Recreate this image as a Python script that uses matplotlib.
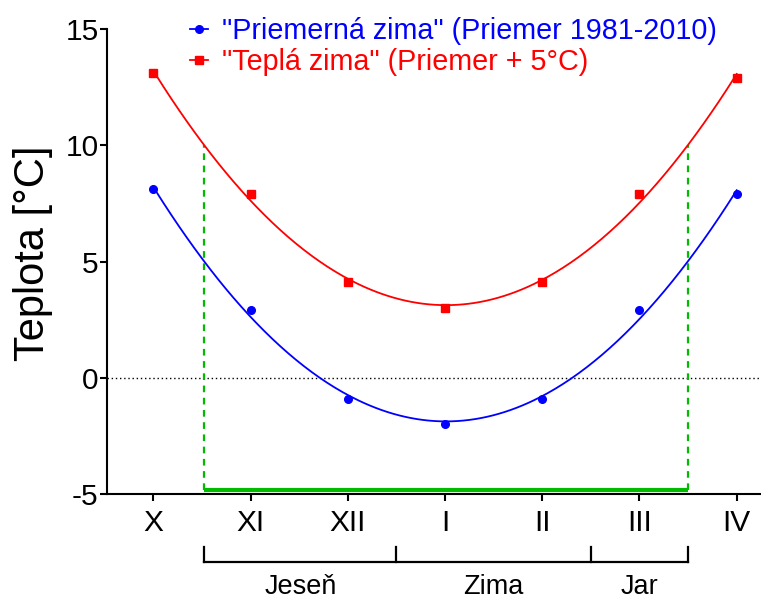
import numpy as np
import matplotlib

matplotlib.use("Agg")
import matplotlib.pyplot as plt

plt.rcParams["font.family"] = ["Liberation Sans", "DejaVu Sans"]

months = ["X", "XI", "XII", "I", "II", "III", "IV"]
avg_winter = [8.1, 2.9, -0.9, -2.0, -0.9, 2.9, 7.9]    # mean 1981-2010
warm_winter = [13.1, 7.9, 4.1, 3.0, 4.1, 7.9, 12.9]    # mean + 5 °C
threshold = 5.0                                          # season cut-off on the mean curve
season_names = ["Jeseň", "Zima", "Jar"]
season_splits = [2.5, 4.5]                               # inner bracket dividers

BLUE = "#0000ff"
RED = "#ff0000"
GREEN = "#00bb00"

x = np.arange(len(months))
xs = np.linspace(0, len(months) - 1, 300)
fit_avg = np.polyfit(x, avg_winter, 2)
fit_warm = np.polyfit(x, warm_winter, 2)

# where the mean-winter curve crosses the threshold
roots = np.roots(fit_avg - np.array([0, 0, threshold]))
x0, x1 = sorted(roots.real)

fig = plt.figure(figsize=(7.61, 6.01), dpi=100)
ax = fig.add_axes([0.1406, 0.178, 0.8594, 0.7737])

ax.axhline(0, color="black", lw=1.0, ls=(0, (1, 2)), zorder=1)

ax.plot(xs, np.polyval(fit_avg, xs), color=BLUE, lw=1.3, zorder=3)
ax.plot(xs, np.polyval(fit_warm, xs), color=RED, lw=1.3, zorder=3)
ax.plot(x, avg_winter, "o", color=BLUE, ms=5.5, zorder=4)
ax.plot(x, warm_winter, "s", color=RED, ms=5.5, zorder=4)

# winter window: dashed verticals up to the warm curve, solid base line
base = -4.83
for xv in (x0, x1):
    ax.plot([xv, xv], [base, np.polyval(fit_warm, xv)], color=GREEN,
            lw=1.6, ls=(0, (3, 2.5)), zorder=2)
ax.plot([x0, x1], [base, base], color=GREEN, lw=3, solid_capstyle="butt", zorder=2)

# legend from empty proxy lines
h1, = ax.plot([], [], "-o", color=BLUE, ms=5.5, lw=1.3)
h2, = ax.plot([], [], "-s", color=RED, ms=5.5, lw=1.3)
ax.legend([h1, h2], ['"Priemerná zima" (Priemer 1981-2010)', '"Teplá zima" (Priemer + 5°C)'],
          loc="upper left", bbox_to_anchor=(0.109, 1.051), frameon=False, fontsize=20.7,
          handlelength=0.63, handletextpad=0.49, labelspacing=0.1, labelcolor="linecolor",
          borderaxespad=0)

ax.set_xlim(-0.478, 6.25)
ax.set_ylim(-5, 15)
ax.set_xticks(x)
ax.set_xticklabels(months)
ax.set_yticks([-5, 0, 5, 10, 15])
ax.set_yticklabels(["-5", "0", "5", "10", "15"])
ax.tick_params(axis="x", labelsize=21.5, length=5, width=1.5, pad=6)
ax.tick_params(axis="y", labelsize=21.5, length=5, width=1.5, pad=1)
ax.set_ylabel("Teplota [°C]", fontsize=30)
ax.yaxis.set_label_coords(-0.082, 0.518)

for side in ("top", "right"):
    ax.spines[side].set_visible(False)
for side in ("left", "bottom"):
    ax.spines[side].set_linewidth(1.5)

# season bracket under the axis
tr = ax.get_xaxis_transform()
yb, yt, ylab = -0.146, -0.114, -0.199
edges = [x0] + season_splits + [x1]
ax.plot([x0, x1], [yb, yb], color="black", lw=1.6, transform=tr, clip_on=False)
for e in edges:
    ax.plot([e, e], [yb, yt], color="black", lw=1.6, transform=tr, clip_on=False)
for name, a, b in zip(season_names, edges[:-1], edges[1:]):
    ax.text((a + b) / 2, ylab, name, transform=tr, ha="center", va="center", fontsize=19.5)

fig.savefig("out.png", dpi=100)
